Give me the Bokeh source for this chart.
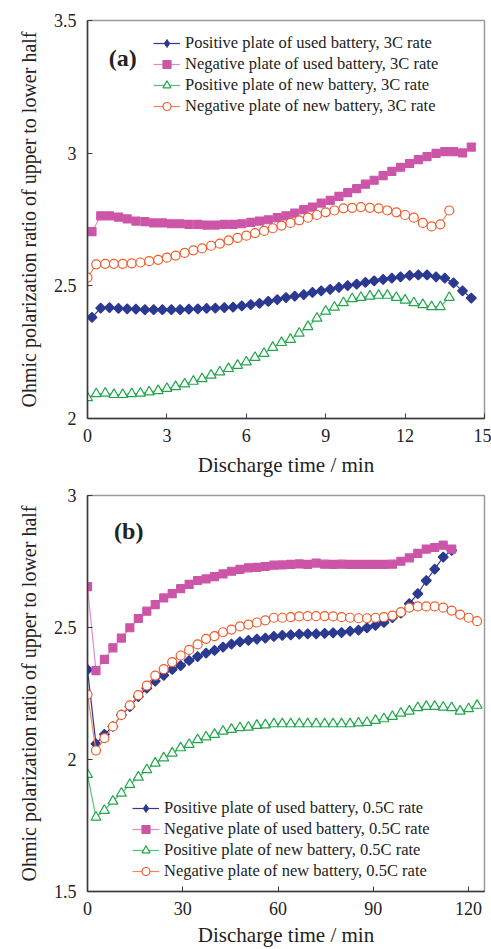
import math
from bokeh.plotting import figure
from bokeh.layouts import column
from bokeh.models import (Range1d, FixedTicker, CustomJSTickFormatter, Legend,
                          LegendItem, Label, ColumnDataSource)
from bokeh.embed import file_html
from bokeh.resources import INLINE

# ---------------- Panel (a): 3C rate ----------------
a_ticks_x = [0, 3, 6, 9, 12, 15]
a_ticks_y = [2, 2.5, 3, 3.5]
a_x_used = [0.17, 0.5, 0.83, 1.17, 1.5, 1.83, 2.17, 2.5, 2.83, 3.17, 3.5, 3.83,
            4.17, 4.5, 4.83, 5.17, 5.5, 5.83, 6.17, 6.5, 6.83, 7.17, 7.5, 7.83,
            8.17, 8.5, 8.83, 9.17, 9.5, 9.83, 10.17, 10.5, 10.83, 11.17, 11.5,
            11.83, 12.17, 12.5, 12.83, 13.17, 13.5, 13.83, 14.17, 14.5]
a_x_new = [0, 0.33, 0.67, 1, 1.33, 1.67, 2, 2.33, 2.67, 3, 3.33, 3.67, 4, 4.33,
           4.67, 5, 5.33, 5.67, 6, 6.33, 6.67, 7, 7.33, 7.67, 8, 8.33, 8.67, 9,
           9.33, 9.67, 10, 10.33, 10.67, 11, 11.33, 11.67, 12, 12.33, 12.67, 13,
           13.33, 13.67]
a_pos_used = [2.381, 2.416, 2.418, 2.415, 2.413, 2.412, 2.410, 2.410, 2.410, 2.410,
              2.410, 2.412, 2.413, 2.415, 2.416, 2.418, 2.420, 2.424, 2.429, 2.434,
              2.441, 2.448, 2.456, 2.461, 2.467, 2.475, 2.481, 2.487, 2.494, 2.501,
              2.506, 2.513, 2.519, 2.524, 2.529, 2.534, 2.539, 2.541, 2.541, 2.534,
              2.529, 2.511, 2.481, 2.454]
a_neg_used = [2.704, 2.764, 2.764, 2.759, 2.752, 2.744, 2.742, 2.737, 2.737, 2.734,
              2.734, 2.732, 2.732, 2.729, 2.729, 2.732, 2.732, 2.734, 2.739, 2.744,
              2.749, 2.757, 2.764, 2.774, 2.787, 2.797, 2.812, 2.822, 2.837, 2.851,
              2.866, 2.883, 2.898, 2.915, 2.931, 2.947, 2.961, 2.976, 2.987, 2.999,
              3.006, 3.006, 3.001, 3.023]
a_pos_new = [2.078, 2.093, 2.095, 2.090, 2.090, 2.093, 2.095, 2.100, 2.105, 2.113,
             2.120, 2.130, 2.140, 2.150, 2.163, 2.175, 2.188, 2.200, 2.213, 2.230,
             2.245, 2.268, 2.286, 2.298, 2.321, 2.346, 2.378, 2.404, 2.419, 2.436,
             2.451, 2.456, 2.461, 2.464, 2.464, 2.456, 2.446, 2.436, 2.429, 2.421,
             2.421, 2.456]
a_neg_new = [2.531, 2.581, 2.583, 2.583, 2.583, 2.585, 2.588, 2.593, 2.598, 2.606,
             2.614, 2.624, 2.634, 2.641, 2.651, 2.659, 2.671, 2.681, 2.689, 2.699,
             2.707, 2.717, 2.727, 2.737, 2.747, 2.757, 2.767, 2.777, 2.784, 2.792,
             2.794, 2.797, 2.794, 2.792, 2.784, 2.777, 2.767, 2.757, 2.737, 2.724,
             2.732, 2.784]
a_labels = ["Positive plate of used battery, 3C rate",
            "Negative plate of used battery, 3C rate",
            "Positive plate of new battery, 3C rate",
            "Negative plate of new battery, 3C rate"]

# ---------------- Panel (b): 0.5C rate ----------------
b_ticks_x = [0, 30, 60, 90, 120]
b_ticks_y = [1.5, 2, 2.5, 3]
b_x_used = [0, 2.67, 5.33, 8, 10.67, 13.33, 16, 18.67, 21.33, 24, 26.67, 29.33,
            32, 34.67, 37.33, 40, 42.67, 45.33, 48, 50.67, 53.33, 56, 58.67,
            61.33, 64, 66.67, 69.33, 72, 74.67, 77.33, 80, 82.67, 85.33, 88,
            90.67, 93.33, 96, 98.67, 101.33, 104, 106.67, 109.33, 112, 114.67]
b_x_new = [0, 2.67, 5.33, 8, 10.67, 13.33, 16, 18.67, 21.33, 24, 26.67, 29.33,
           32, 34.67, 37.33, 40, 42.67, 45.33, 48, 50.67, 53.33, 56, 58.67,
           61.33, 64, 66.67, 69.33, 72, 74.67, 77.33, 80, 82.67, 85.33, 88,
           90.67, 93.33, 96, 98.67, 101.33, 104, 106.67, 109.33, 112, 114.67,
           117.33, 120, 122.67]
b_pos_used = [2.340, 2.059, 2.095, 2.125, 2.169, 2.200, 2.238, 2.270, 2.297, 2.319,
              2.341, 2.356, 2.375, 2.390, 2.403, 2.413, 2.426, 2.437, 2.446, 2.451,
              2.456, 2.460, 2.466, 2.470, 2.472, 2.475, 2.476, 2.476, 2.478, 2.480,
              2.481, 2.486, 2.490, 2.499, 2.508, 2.519, 2.537, 2.554, 2.590, 2.628,
              2.678, 2.721, 2.767, 2.792]
b_neg_used = [2.655, 2.337, 2.379, 2.423, 2.460, 2.499, 2.534, 2.562, 2.587, 2.612,
              2.628, 2.647, 2.663, 2.678, 2.684, 2.693, 2.703, 2.713, 2.720, 2.726,
              2.728, 2.731, 2.736, 2.737, 2.739, 2.741, 2.739, 2.744, 2.740, 2.739,
              2.740, 2.739, 2.739, 2.739, 2.739, 2.739, 2.740, 2.751, 2.764, 2.781,
              2.797, 2.803, 2.812, 2.797]
b_pos_new = [1.943, 1.781, 1.807, 1.842, 1.872, 1.905, 1.933, 1.961, 1.986, 2.006,
             2.024, 2.044, 2.057, 2.075, 2.085, 2.095, 2.107, 2.114, 2.120, 2.122,
             2.129, 2.131, 2.135, 2.135, 2.135, 2.135, 2.135, 2.135, 2.135, 2.135,
             2.135, 2.135, 2.138, 2.140, 2.148, 2.154, 2.163, 2.175, 2.183, 2.196,
             2.201, 2.201, 2.198, 2.196, 2.183, 2.192, 2.205]
b_neg_new = [2.246, 2.034, 2.081, 2.125, 2.169, 2.205, 2.244, 2.280, 2.318, 2.342,
             2.369, 2.394, 2.415, 2.436, 2.457, 2.467, 2.482, 2.492, 2.504, 2.511,
             2.519, 2.527, 2.537, 2.537, 2.539, 2.542, 2.543, 2.543, 2.543, 2.542,
             2.539, 2.537, 2.535, 2.535, 2.537, 2.539, 2.545, 2.558, 2.575, 2.580,
             2.580, 2.580, 2.575, 2.564, 2.549, 2.537, 2.524]
b_labels = ["Positive plate of used battery, 0.5C rate",
            "Negative plate of used battery, 0.5C rate",
            "Positive plate of new battery, 0.5C rate",
            "Negative plate of new battery, 0.5C rate"]

FONT = "Liberation Serif"
TXT = "#222222"
C_BLUE = "#2B3990"
C_PINK = "#CC55A8"
C_PINK_L = "#E08CC6"
C_GREEN = "#1FA64A"
C_GREEN_L = "#55C07A"
C_ORANGE = "#F15A29"
C_ORANGE_L = "#F5825A"


def make_panel(height, top, bottom, xr, yr, xticks, yticks, lab_standoff):
    p = figure(width=491, height=height, output_backend="svg", toolbar_location=None,
               x_range=Range1d(*xr), y_range=Range1d(*yr),
               min_border_left=87, min_border_right=7,
               min_border_top=top, min_border_bottom=bottom)
    p.xgrid.visible = False
    p.ygrid.visible = False
    p.outline_line_color = "#9a9a9a"
    p.outline_line_width = 1.5
    p.background_fill_color = "white"
    p.border_fill_color = "white"
    fmt = CustomJSTickFormatter(code="return String(Math.round(tick*10)/10);")
    for ax, ticks in ((p.xaxis[0], xticks), (p.yaxis[0], yticks)):
        ax.ticker = FixedTicker(ticks=ticks)
        ax.formatter = fmt
        ax.major_tick_in = 5
        ax.major_tick_out = 0
        ax.minor_tick_in = 0
        ax.minor_tick_out = 0
        ax.axis_line_color = "#3a3a3a"
        ax.axis_line_width = 1.5
        ax.major_tick_line_color = "#3a3a3a"
        ax.major_label_text_font = FONT
        ax.major_label_text_font_size = "18px"
        ax.major_label_text_color = TXT
        ax.axis_label_text_font = FONT
        ax.axis_label_text_font_style = "normal"
        ax.axis_label_text_color = TXT
    p.xaxis.axis_label = "Discharge time / min"
    p.xaxis.axis_label_text_font_size = "21px"
    p.xaxis.major_label_standoff = 10
    p.xaxis.axis_label_standoff = lab_standoff
    p.yaxis.axis_label = "Ohmic polarization ratio of upper to lower half"
    p.yaxis.axis_label_text_font_size = "20px"
    p.yaxis.major_label_standoff = 11
    p.yaxis.axis_label_standoff = 11
    return p


def add_series(p, xs, ys):
    items = []
    specs = [
        (C_BLUE, C_BLUE, "square", 7, C_BLUE, math.pi / 4, "diamond"),
        (C_PINK, C_PINK_L, "square", 8, C_PINK, 0, None),
        (C_GREEN, C_GREEN_L, "triangle", 10, "white", 0, None),
        (C_ORANGE, C_ORANGE_L, "circle", 9, "white", 0, None),
    ]
    for (x, y), (mc, lc, mk, sz, fc, ang, legmk) in zip(zip(xs, ys), specs):
        src = ColumnDataSource(dict(x=x, y=y))
        ln = p.line("x", "y", source=src, line_color=lc, line_width=1.2)
        key = None
        if legmk is not None:
            # small diamonds hidden under the rotated squares; used for the legend key
            key = p.scatter("x", "y", source=src, marker=legmk, size=6,
                            fill_color=fc, line_color=mc, line_width=1)
        sc = p.scatter("x", "y", source=src, marker=mk, size=sz, angle=ang,
                       fill_color=fc, line_color=mc, line_width=1.2)
        items.append([ln, key if key is not None else sc])
    return items


def add_legend(p, items, labels, loc):
    legend = Legend(items=[LegendItem(label=l, renderers=r) for l, r in zip(labels, items)],
                    location=loc, glyph_width=27, glyph_height=20, label_height=20,
                    label_standoff=5, spacing=1, padding=0, margin=0,
                    border_line_color=None, background_fill_alpha=0,
                    label_text_font=FONT, label_text_font_size="16.5px",
                    label_text_color=TXT)
    p.add_layout(legend)


# Panel (a)
pa = make_panel(480, 20, 62, (0, 15), (2, 3.5), a_ticks_x, a_ticks_y, 8)
items_a = add_series(pa, [a_x_used, a_x_used, a_x_new, a_x_new],
                     [a_pos_used, a_neg_used, a_pos_new, a_neg_new])
add_legend(pa, items_a, a_labels, (66, 302))
pa.add_layout(Label(x=1.33, y=3.357, text="(a)", text_font=FONT, text_font_style="bold",
                    text_font_size="24px", text_align="center", text_baseline="middle",
                    text_color=TXT))

# Panel (b)
pb = make_panel(469, 15, 58, (0, 125), (1.5, 3), b_ticks_x, b_ticks_y, 5)
items_b = add_series(pb, [b_x_used, b_x_used, b_x_new, b_x_new],
                     [b_pos_used, b_neg_used, b_pos_new, b_neg_new])
add_legend(pb, items_b, b_labels, (45, 10))
pb.add_layout(Label(x=13.0, y=2.867, text="(b)", text_font=FONT, text_font_style="bold",
                    text_font_size="24px", text_align="center", text_baseline="middle",
                    text_color=TXT))

layout = column(pa, pb, spacing=0)
open("out.html", "w").write(file_html(layout, INLINE))
